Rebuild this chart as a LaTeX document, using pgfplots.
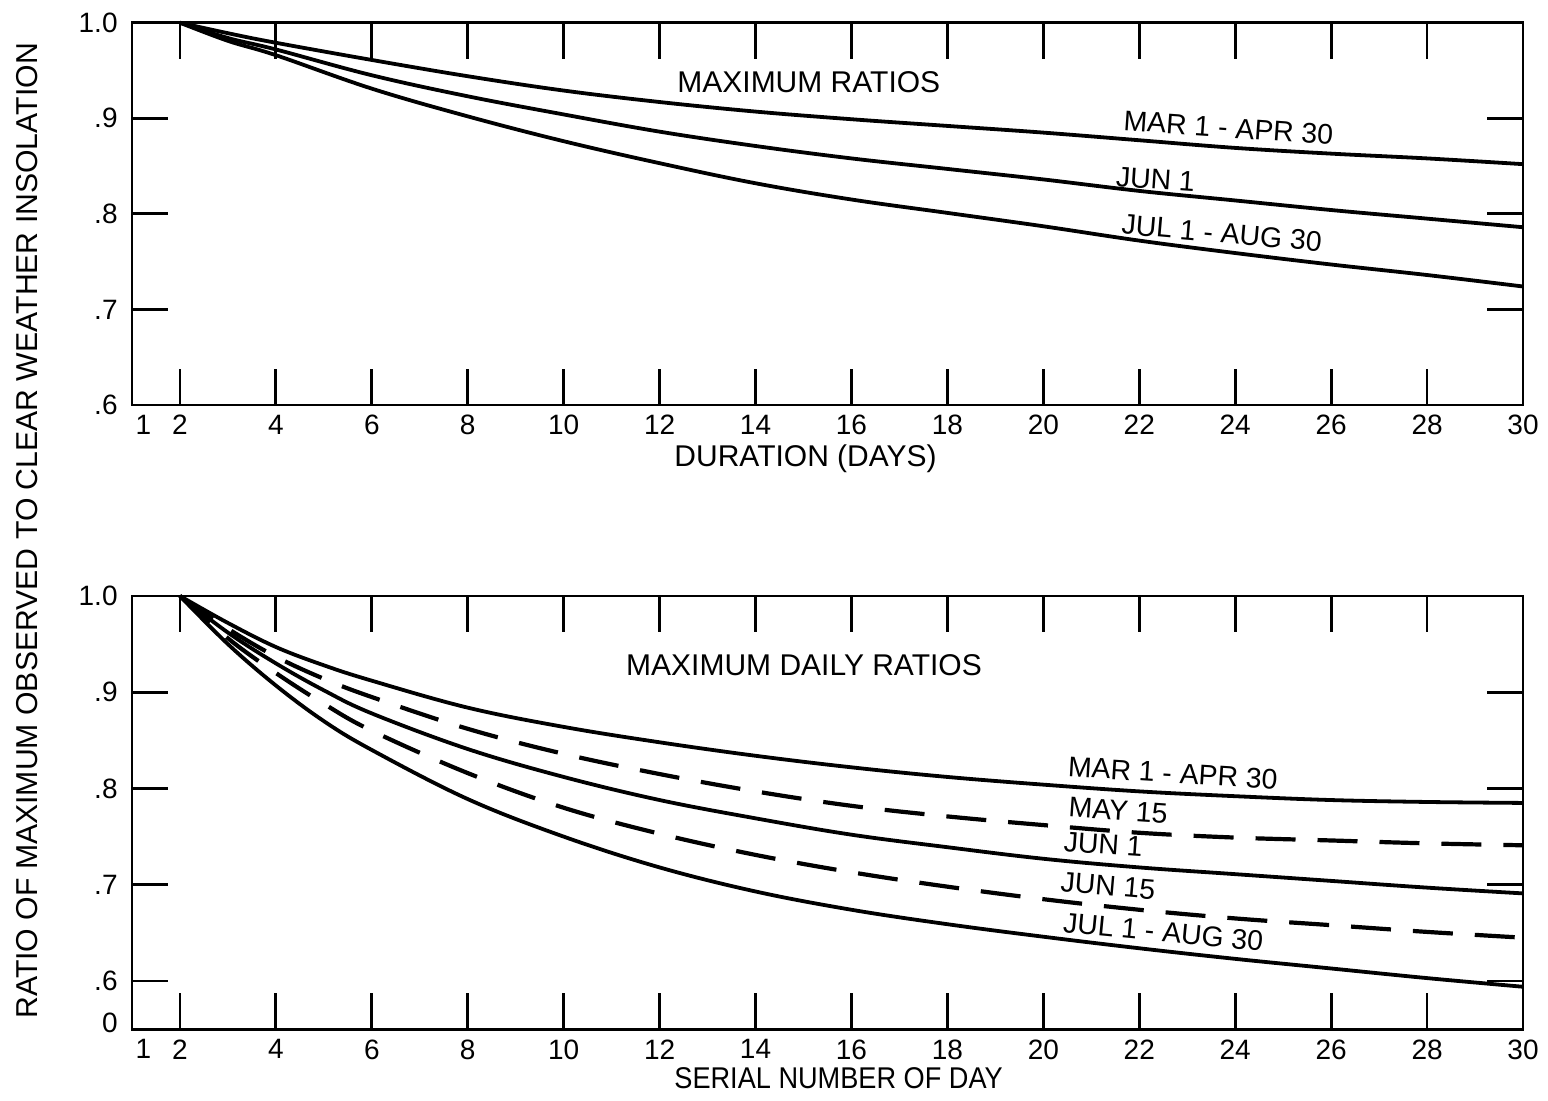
\documentclass[border=0pt]{standalone}
\usepackage{fontspec}
\setmainfont{Liberation Sans}
\usepackage{graphicx}
\usepackage{pgfplots}
\pgfplotsset{compat=1.18}
\newcommand{\lbl}{\fontsize{15}{17}\selectfont}
\newcommand{\clbl}{\fontsize{14.2}{16}\selectfont}
\begin{document}
\begin{tikzpicture}
\path[use as bounding box] (-66pt,-35.35pt) rectangle (708pt,514.65pt);
\pgfplotsset{
 myaxis/.style={
  scale only axis, width=695.5pt,
  xmin=1, xmax=30,
  clip=false,
  axis line style={line width=1.4pt, black},
  tick style={line width=1.4pt, black},
  major tick length=18pt,
  tick align=inside,
  xtick pos=both, ytick pos=both,
  xtick={2,4,...,30},
  xticklabels={2,4,6,8,10,12,14,16,18,20,22,24,26,28,30},
  extra x ticks={1},
  extra x tick labels={1},
  extra x tick style={xticklabel style={xshift=5.7pt}},
  xticklabel style={anchor=north, inner sep=0pt, yshift=-5pt, font=\fontsize{14}{16}\selectfont},
  yticklabel style={anchor=east, inner sep=0pt, xshift=-7pt, font=\fontsize{14}{16}\selectfont},
 },
}
% ---------------- top panel ----------------
\begin{axis}[myaxis, at={(0pt,312.15pt)}, anchor=south west, height=191.15pt,
  ymin=0.6, ymax=1.0, ytick={0.6,0.7,0.8,0.9,1.0}, yticklabels={.6,.7,.8,.9,1.0}]
\addplot[black, line width=1.9pt, smooth, tension=0.6] coordinates {(2,1.000)(3,0.989)(4,0.979)(6,0.961)(8,0.944)(10,0.929)(12,0.917)(14,0.907)(16,0.899)(18,0.892)(20,0.885)(22,0.877)(24,0.869)(26,0.863)(28,0.858)(30,0.852)};
\addplot[black, line width=1.9pt, smooth, tension=0.6] coordinates {(2,1.000)(3,0.984)(4,0.972)(6,0.945)(8,0.923)(10,0.904)(12,0.886)(14,0.871)(16,0.858)(18,0.847)(20,0.836)(22,0.824)(24,0.814)(26,0.804)(28,0.795)(30,0.786)};
\addplot[black, line width=1.9pt, smooth, tension=0.6] coordinates {(2,1.000)(3,0.981)(4,0.966)(6,0.931)(8,0.902)(10,0.876)(12,0.853)(14,0.832)(16,0.815)(18,0.801)(20,0.787)(22,0.772)(24,0.759)(26,0.747)(28,0.736)(30,0.724)};
\node[font=\lbl] at (axis cs:15.11,0.938) {MAXIMUM RATIOS};
\node[font=\clbl, rotate=-4] at (axis cs:23.86,0.890) {MAR 1 - APR 30};
\node[font=\clbl, rotate=-4] at (axis cs:22.34,0.836) {JUN 1};
\node[font=\clbl, rotate=-5] at (axis cs:23.72,0.780) {JUL 1 - AUG 30};
\end{axis}
% ---------------- bottom panel ----------------
\begin{axis}[myaxis, at={(0pt,0pt)}, anchor=south west, height=216.65pt,
  ymin=0.5498, ymax=1.0, ytick={0.6,0.7,0.8,0.9,1.0}, yticklabels={.6,.7,.8,.9,1.0},
  extra y ticks={0.5498}, extra y tick labels={0},
  extra y tick style={yticklabel style={yshift=3.2pt}}]
\addplot[black, line width=1.9pt, smooth, tension=0.6] coordinates {(2,1)(3,0.972)(4,0.947)(5,0.928)(6,0.912)(8,0.884)(10,0.864)(12,0.848)(14,0.834)(16,0.822)(18,0.812)(20,0.804)(22,0.797)(24,0.792)(26,0.788)(28,0.786)(30,0.785)};
\addplot[black, line width=2.1pt, smooth, tension=0.6, dash pattern=on 20pt off 11pt] coordinates {(2,1)(3,0.966)(4,0.937)(5,0.914)(6,0.895)(8,0.862)(10,0.836)(12,0.815)(14,0.797)(16,0.782)(18,0.771)(20,0.762)(22,0.754)(24,0.749)(26,0.746)(28,0.743)(30,0.741)};
\addplot[black, line width=1.9pt, smooth, tension=0.6] coordinates {(2,1)(3,0.962)(4,0.930)(5,0.902)(6,0.878)(8,0.841)(10,0.812)(12,0.788)(14,0.769)(16,0.752)(18,0.739)(20,0.727)(22,0.718)(24,0.711)(26,0.704)(28,0.697)(30,0.691)};
\addplot[black, line width=2.1pt, smooth, tension=0.6, dash pattern=on 20pt off 11pt] coordinates {(2,1)(3,0.956)(4,0.920)(5,0.888)(6,0.860)(8,0.816)(10,0.780)(12,0.753)(14,0.731)(16,0.713)(18,0.698)(20,0.685)(22,0.674)(24,0.665)(26,0.658)(28,0.651)(30,0.645)};
\addplot[black, line width=1.9pt, smooth, tension=0.6] coordinates {(2,1)(3,0.950)(4,0.907)(5,0.870)(6,0.840)(8,0.789)(10,0.750)(12,0.718)(14,0.693)(16,0.674)(18,0.659)(20,0.646)(22,0.634)(24,0.623)(26,0.613)(28,0.603)(30,0.594)};
\node[font=\lbl] at (axis cs:15.01,0.928) {MAXIMUM DAILY RATIOS};
\node[font=\clbl, rotate=-3.5] at (axis cs:22.70,0.816) {MAR 1 - APR 30};
\node[font=\clbl, rotate=-4] at (axis cs:21.56,0.777) {MAY 15};
\node[font=\clbl, rotate=-4] at (axis cs:21.25,0.742) {JUN 1};
\node[font=\clbl, rotate=-5] at (axis cs:21.35,0.699) {JUN 15};
\node[font=\clbl, rotate=-5.5] at (axis cs:22.50,0.651) {JUL 1 - AUG 30};
\end{axis}
% ---------------- axis titles ----------------
\node[font=\lbl] at (336.8pt,285.4pt) {DURATION (DAYS)};
\node[font=\lbl] at (353.3pt,-24.35pt) {\scalebox{0.905}[1]{SERIAL NUMBER OF DAY}};
\node[rotate=90, font=\fontsize{15.1}{17}\selectfont] at (-52.25pt,249.2pt) {RATIO OF MAXIMUM OBSERVED TO CLEAR WEATHER INSOLATION};
\end{tikzpicture}
\end{document}
